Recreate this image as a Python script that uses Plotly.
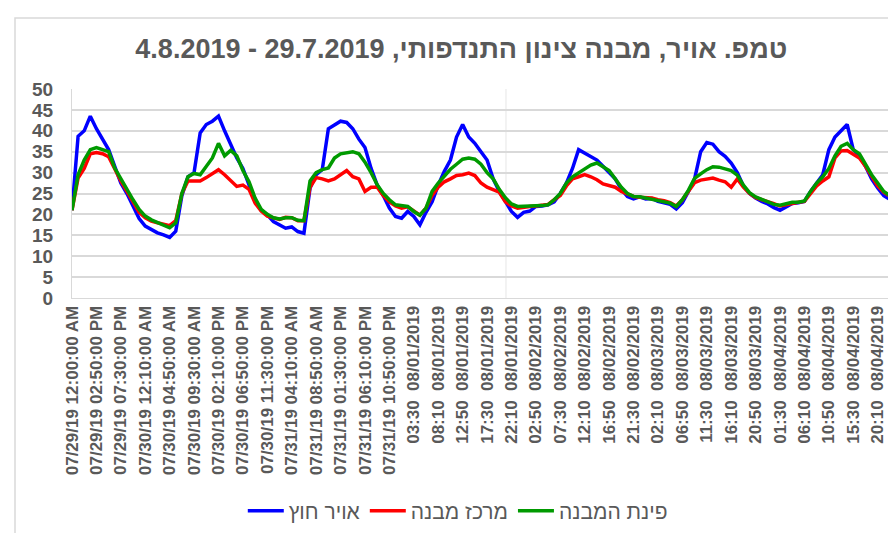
import plotly.graph_objects as go

# ---- data (one value per ~70 minutes) ----
outside_air = [21, 38.7, 40, 43.5, 40.5, 38, 35.5, 31.5, 27.5, 25, 22, 19, 17.2, 16.3, 15.6, 15.1, 14.5, 16, 24.5, 29,
               30, 39.5, 41.5, 42.3, 43.5, 40, 36.7, 33.5, 31, 27.1, 23.1, 21, 19.9, 18.3, 17.5, 16.7, 17, 15.9, 15.5,
               26.3, 29.5, 30.7, 40.5,
               41.5, 42.3, 42, 40.5, 38, 36, 31, 27, 24.5, 21.5, 19.5, 19.1, 20.7, 19.5, 17.5, 20.5, 23, 27, 30.3, 33,
               38.5, 41.5, 38.5, 37, 35, 33, 28.5, 25.5, 23.1, 20.7, 19.3, 20.5, 20.8, 21.9, 22, 22.3, 23, 25, 27.5, 31,
               35.5, 34.7, 34, 33, 31.5,
               30, 28.5, 26, 24.3, 23.7, 24.2, 23.7, 23.8, 23.1, 22.8, 22.4, 21.3, 22.8, 25.5, 28.5, 35, 37.2, 36.8, 35,
               33.9, 32.3, 30, 26.8, 25, 23.9, 23.1, 22.5, 21.6, 21, 21.8, 22.6, 22.8, 23.1, 25.5, 27.5, 29.5, 35.5,
               38.5, 40, 41.5, 35.5, 34, 31.5, 28.5, 26.3, 24.5, 23.6, 22.7]

building_center = [21, 28.7, 31, 34.5, 34.8, 34.5, 33.8, 30.7, 28, 25.5, 23, 20.5, 19.2, 18.4, 18, 17.6, 17.3, 18.5, 25,
                   28, 28, 28, 28.8, 29.8, 30.7, 29.5, 28, 26.7, 27, 26, 22.7, 20.8, 19.6, 19.1, 18.8, 19.3, 19.2, 18.5,
                   18.5, 26.5, 28.8, 28.5, 28,
                   28.5, 29.5, 30.5, 29, 28.5, 25.5, 26.5, 26.5, 24.5, 23, 22, 21.5, 21.8, 20.8, 19.8, 21.5, 24.5, 26.5,
                   27.8, 28.5, 29.3, 29.5, 29.9, 29.3, 27.5, 26.5, 26, 25.3, 23, 22, 21.5, 21.8, 21.9, 22, 22.2, 22.4,
                   23.5, 24.5, 26.8, 28.5, 29, 29.5, 29, 28.3, 27.3,
                   27, 26.5, 25.5, 24.8, 24.3, 24.1, 24, 23.9, 23.5, 23.3, 22.8, 22, 23.5, 25.5, 27.6, 28.2, 28.5, 28.7,
                   28.2, 27.8, 26.5, 28.5, 26.5, 25, 24, 23.6, 23, 22.6, 22, 22.3, 22.8, 22.9, 23.1, 25, 26.8, 28, 29,
                   33.5, 35.2, 35.3, 34.5, 33.5, 31.5, 29, 26.8, 25.3, 24.4, 23.9]

building_corner = [21, 29.5, 33, 35.5, 36, 35.5, 35, 31.1, 28.5, 25.8, 23.5, 21.2, 19.6, 18.7, 18, 17.3, 16.8, 18, 25,
                   29, 29.8, 29.5, 31.5, 33.5, 37, 34, 35.3, 34, 30.5, 27.8, 23.9, 21.2, 20, 19.2, 18.9, 19.2, 19.2,
                   18.6, 18.5, 28, 30, 30.7, 31.1,
                   33.5, 34.5, 34.8, 35, 34.5, 32.5, 30, 27.1, 25, 23.5, 22.3, 22, 21.9, 20.7, 19.8, 21.5, 25.5, 27.5,
                   29.3, 30.8, 32, 33.2, 33.5, 33.2, 32, 30, 28.5, 26, 24, 22.5, 21.9, 21.9, 22, 22, 22.1, 22.3, 23.5,
                   25, 27.5, 29, 30, 30.8, 31.8, 32.3, 31.5,
                   30.5, 28.5, 26.5, 25, 24.3, 24.2, 23.9, 23.7, 23.4, 23.2, 22.7, 21.9, 23.5, 25.8, 28.6, 29.7, 30.7,
                   31.4, 31.3, 30.9, 30.5, 29.4, 27, 25.2, 24.2, 23.6, 23, 22.4, 22.2, 22.6, 22.9, 22.9, 23.2, 25.5,
                   27.5, 29, 31, 34, 36.3, 37, 35.5, 34.5, 31.8, 29.5, 27.5, 25.5, 24.5, 23.8]

NB = "\u00a0"
tick_labels = [
    "07/29/19 12:00:00 AM", "07/29/19 02:50:00 PM", "07/29/19 07:30:00 PM", "07/30/19 12:10:00 AM",
    "07/30/19 04:50:00 AM", "07/30/19 09:30:00 AM", "07/30/19 02:10:00 PM", "07/30/19 06:50:00 PM",
    "07/30/19 11:30:00 PM", "07/31/19 04:10:00 AM", "07/31/19 08:50:00 AM", "07/31/19 01:30:00 PM",
    "07/31/19 06:10:00 PM", "07/31/19 10:50:00 PM",
    "03:30 08/01/2019", "08:10 08/01/2019", "12:50 08/01/2019", "17:30 08/01/2019", "22:10 08/01/2019",
    "02:50 08/02/2019", "07:30 08/02/2019", "12:10 08/02/2019", "16:50 08/02/2019", "21:30 08/02/2019",
    "02:10 08/03/2019", "06:50 08/03/2019", "11:30 08/03/2019", "16:10 08/03/2019", "20:50 08/03/2019",
    "01:30 08/04/2019", "06:10 08/04/2019", "10:50 08/04/2019", "15:30 08/04/2019", "20:10 08/04/2019",
]
POINTS_PER_LABEL = 4

series_names = ["אויר חוץ", "מרכז מבנה", "פינת המבנה"]
series_colors = ["#0000FF", "#FF0000", "#009A00"]
title_text = "טמפ. אויר, מבנה צינון התנדפותי, 29.7.2019 - 4.8.2019"

y_ticks = [0, 5, 10, 15, 20, 25, 30, 35, 40, 45, 50]
divider_category = 71.1

assert len(outside_air) == len(building_center) == len(building_corner)
n = len(outside_air)
x = list(range(n))

FONT = "Liberation Sans, Arial, DejaVu Sans, sans-serif"
GRAY = "#595959"
GRID = "#d9d9d9"

fig = go.Figure()
for name, vals, col in zip(series_names, [outside_air, building_center, building_corner], series_colors):
    fig.add_trace(go.Scatter(x=x, y=vals, mode="lines", name=name,
                             line=dict(color=col, width=3.5)))

fig.update_layout(
    width=896, height=533,
    paper_bgcolor="white", plot_bgcolor="white",
    margin=dict(l=64, r=8, t=81, b=243),
    font=dict(family=FONT, color=GRAY),
    title=dict(text="<b>\u202B" + title_text + "\u202C</b>", x=0.506, xref="container", xanchor="center",
               y=1 - 41 / 533, yref="container", yanchor="middle",
               font=dict(size=27, color=GRAY, family=FONT)),
    showlegend=True,
    legend=dict(orientation="h", x=0.502, xref="container", xanchor="center",
                y=1 - 503 / 533, yref="container", yanchor="middle",
                font=dict(size=21, color=GRAY, family=FONT), itemwidth=36,
                bgcolor="rgba(0,0,0,0)"),
    xaxis=dict(range=[0, n - 1], tickmode="array",
               tickvals=[i * POINTS_PER_LABEL for i in range(len(tick_labels))],
               ticktext=["<b>" + t.replace(" 08/", NB + " 08/") + "</b>" for t in tick_labels],
               tickangle=-90, tickfont=dict(size=17, color=GRAY, family=FONT),
               showgrid=False, zeroline=False, showline=True, linecolor=GRID, linewidth=1,
               ticks="", automargin=False),
    yaxis=dict(range=[0, 50], tickmode="array", tickvals=y_ticks,
               ticktext=["<b>%d</b>" % v for v in y_ticks],
               tickfont=dict(size=19, color=GRAY, family=FONT),
               showgrid=True, gridcolor=GRID, gridwidth=1.5, zeroline=False,
               showline=True, linecolor=GRID, linewidth=1, ticks="",
               ticklabelstandoff=14, automargin=False),
    shapes=[
        dict(type="line", xref="x", yref="paper", x0=divider_category, x1=divider_category, y0=0, y1=1,
             line=dict(color="#e6e6e6", width=1), layer="below"),
        dict(type="rect", xref="paper", yref="paper", x0=(7 - 64) / 824, x1=1.2, y0=-2, y1=(290 - 10) / 209,
             line=dict(color=GRID, width=1.5), layer="below"),
    ],
)

fig.write_html("out.html")
